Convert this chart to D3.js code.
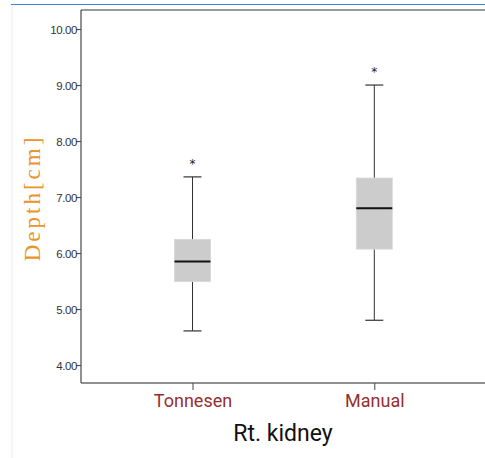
<!DOCTYPE html>
<html>
<head>
<meta charset="utf-8">
<script src="https://cdn.jsdelivr.net/npm/d3@7"></script>
<style>
  body { margin: 0; background: #fff; }
</style>
</head>
<body>
<div id="chart"></div>
<script>
// box plot values
var groups = ["Tonnesen", "Manual"];
var whiskerLow = [4.61, 4.80];
var q1 = [5.49, 6.07];
var median = [5.85, 6.80];
var q3 = [6.245, 7.34];
var whiskerHigh = [7.36, 9.00];
var outliers = [7.66, 9.29];
var yTicks = [4, 5, 6, 7, 8, 9, 10];

var width = 485;
var height = 458;

var plotLeft = 81, plotTop = 10, plotBottom = 383;

var svg = d3.select("#chart").append("svg")
  .attr("width", width)
  .attr("height", height);

// page frame lines
svg.append("line")
  .attr("x1", 12).attr("x2", 12).attr("y1", 4).attr("y2", height)
  .attr("stroke", "#e3eef8").attr("stroke-width", 1);
svg.append("line")
  .attr("x1", 11).attr("x2", width).attr("y1", 4.5).attr("y2", 4.5)
  .attr("stroke", "#3a84cf").attr("stroke-width", 1.2);

var y = d3.scaleLinear().domain([3.68, 10.34]).range([plotBottom, plotTop]);
var x = d3.scalePoint().domain(groups).range([192.5, 374.3]);

// plot frame
svg.append("line")
  .attr("x1", plotLeft).attr("x2", width).attr("y1", plotTop).attr("y2", plotTop)
  .attr("stroke", "#777").attr("stroke-width", 1.5);

var yAxis = svg.append("g")
  .attr("transform", "translate(" + plotLeft + ",0)")
  .call(d3.axisLeft(y).tickValues(yTicks).tickFormat(d3.format(".2f")).tickSize(5).tickSizeOuter(0));
yAxis.select(".domain").attr("stroke", "#222").attr("d", "M0," + plotTop + "V" + plotBottom);
yAxis.selectAll(".tick line").attr("stroke", "#444");
yAxis.selectAll("text")
  .attr("font-family", "'Liberation Sans Narrow', 'Arial Narrow', sans-serif")
  .attr("font-size", 11.5)
  .attr("fill", "#333")
  .attr("x", -4)
  .attr("dy", "0.35em")
  .attr("letter-spacing", -0.4);

var xAxis = svg.append("g")
  .attr("transform", "translate(0," + plotBottom + ")")
  .call(d3.axisBottom(x).tickSize(7).tickSizeOuter(0));
xAxis.select(".domain").attr("stroke", "#222").attr("d", "M" + plotLeft + ",0H" + width);
xAxis.selectAll(".tick line").attr("stroke", "#444");
xAxis.selectAll("text")
  .attr("font-family", "Roboto, 'Noto Sans', sans-serif")
  .attr("font-size", 18)
  .attr("fill", "#952f2f")
  .attr("y", 9)
  .attr("dy", "0.85em");

var boxW = 36, capW = 18;

var g = svg.selectAll(".box")
  .data(groups)
  .enter().append("g")
  .attr("class", "box");

g.append("line")
  .attr("x1", function(d) { return x(d); })
  .attr("x2", function(d) { return x(d); })
  .attr("y1", function(d, i) { return y(whiskerHigh[i]); })
  .attr("y2", function(d, i) { return y(whiskerLow[i]); })
  .attr("stroke", "#333").attr("stroke-width", 1);

g.selectAll(".cap")
  .data(function(d, i) { return [{g: d, v: whiskerLow[i]}, {g: d, v: whiskerHigh[i]}]; })
  .enter().append("line")
  .attr("x1", function(d) { return x(d.g) - capW / 2; })
  .attr("x2", function(d) { return x(d.g) + capW / 2; })
  .attr("y1", function(d) { return y(d.v); })
  .attr("y2", function(d) { return y(d.v); })
  .attr("stroke", "#333").attr("stroke-width", 1.2);

g.append("rect")
  .attr("x", function(d) { return x(d) - boxW / 2; })
  .attr("width", boxW)
  .attr("y", function(d, i) { return y(q3[i]); })
  .attr("height", function(d, i) { return y(q1[i]) - y(q3[i]); })
  .attr("fill", "#cccccc")
  .attr("stroke", "#d8d8d8").attr("stroke-width", 0.8);

g.append("line")
  .attr("x1", function(d) { return x(d) - boxW / 2; })
  .attr("x2", function(d) { return x(d) + boxW / 2; })
  .attr("y1", function(d, i) { return y(median[i]); })
  .attr("y2", function(d, i) { return y(median[i]); })
  .attr("stroke", "#111").attr("stroke-width", 2);

g.append("text")
  .attr("x", function(d) { return x(d); })
  .attr("y", function(d, i) { return y(outliers[i]); })
  .attr("dy", "0.62em")
  .attr("text-anchor", "middle")
  .attr("font-family", "'DejaVu Sans', sans-serif")
  .attr("font-size", 12)
  .attr("fill", "#222")
  .text("*");

// axis titles
svg.append("text")
  .attr("x", 283)
  .attr("y", 441)
  .attr("text-anchor", "middle")
  .attr("font-family", "Roboto, 'Noto Sans', sans-serif")
  .attr("font-size", 23)
  .attr("fill", "#111")
  .text("Rt. kidney");

svg.append("text")
  .attr("transform", "translate(40,198) rotate(-90)")
  .attr("text-anchor", "middle")
  .attr("font-family", "'Liberation Serif', serif")
  .attr("font-size", 23)
  .attr("letter-spacing", 3)
  .attr("fill", "#e8952c")
  .text("Depth[cm]");
</script>
</body>
</html>
